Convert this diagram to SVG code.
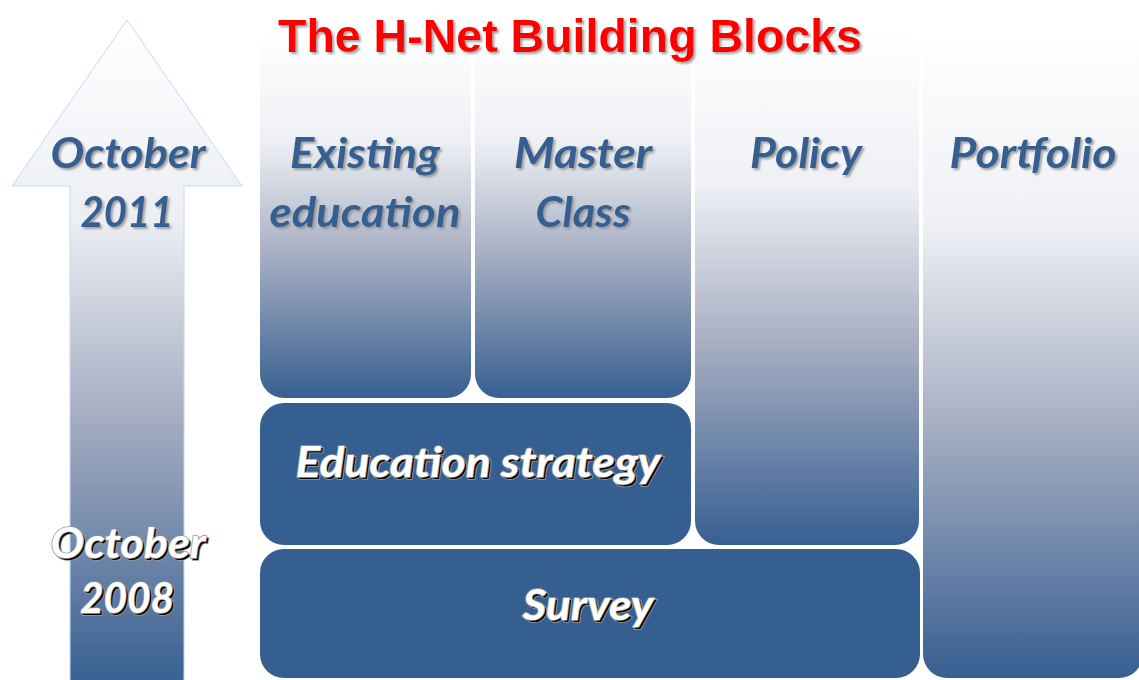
<svg xmlns="http://www.w3.org/2000/svg" width="1139" height="680" viewBox="0 0 1139 680">
<defs>
<linearGradient id="colGrad" x1="0" y1="0" x2="0" y2="1">
<stop offset="0" stop-color="#ffffff"/>
<stop offset="0.3" stop-color="#eef0f4"/>
<stop offset="0.6" stop-color="#a9b0c4"/>
<stop offset="1" stop-color="#365f91"/>
</linearGradient>
<linearGradient id="arrowGrad" x1="0" y1="0" x2="0" y2="1">
<stop offset="0" stop-color="#ffffff"/>
<stop offset="0.3" stop-color="#eceef3"/>
<stop offset="0.6" stop-color="#a3abc0"/>
<stop offset="1" stop-color="#365f91"/>
</linearGradient>
<filter id="greyShadow" x="-10%" y="-20%" width="130%" height="150%">
<feDropShadow dx="2" dy="2" stdDeviation="0.8" flood-color="#8c8c8c" flood-opacity="0.8"/>
</filter>
</defs>
<style>
.col{fill:url(#colGrad);stroke:#ffffff;stroke-width:2}
.solid{fill:#365f91;stroke:#ffffff;stroke-width:2}
.blue{font-family:Lato,"Open Sans","DejaVu Sans",sans-serif;font-weight:bold;font-style:italic;font-size:42px;fill:#365f91;text-anchor:middle;filter:url(#greyShadow)}
.white{font-family:Lato,"Open Sans","DejaVu Sans",sans-serif;font-weight:bold;font-style:italic;font-size:42px;fill:#ffffff;stroke:#9a9a9a;stroke-width:1.6;paint-order:stroke;text-anchor:middle}
.wshadow{font-family:Lato,"Open Sans","DejaVu Sans",sans-serif;font-weight:bold;font-style:italic;font-size:42px;fill:#000000;stroke:#9a9a9a;stroke-width:1.6;paint-order:stroke;text-anchor:middle}
.title{font-family:"Liberation Sans",Arial,sans-serif;font-weight:bold;font-size:46.5px;fill:#ff0000;text-anchor:middle;filter:url(#greyShadow)}
</style>
<rect width="1139" height="680" fill="#ffffff"/>

<g id="timeline-arrow">
<path d="M127 20 L242 186 L184 186 L184 690 L70 690 L70 186 L12 186 Z" fill="url(#arrowGrad)" stroke="#c6d9f1" stroke-width="1"/>
<text class="blue" x="128" y="168" textLength="155" lengthAdjust="spacingAndGlyphs">October</text>
<text class="blue" x="127" y="227" textLength="93" lengthAdjust="spacingAndGlyphs">2011</text>
<text class="wshadow" x="130" y="560" textLength="155" lengthAdjust="spacingAndGlyphs">October</text>
<text class="white" x="128" y="558" textLength="155" lengthAdjust="spacingAndGlyphs">October</text>
<text class="wshadow" x="129" y="615" textLength="94" lengthAdjust="spacingAndGlyphs">2008</text>
<text class="white" x="127" y="613" textLength="94" lengthAdjust="spacingAndGlyphs">2008</text>
</g>

<g id="existing-education">
<rect class="col" x="259" y="30" width="213" height="369" rx="25"/>
<text class="blue" x="365" y="168" textLength="150" lengthAdjust="spacingAndGlyphs">Existing</text>
<text class="blue" x="365" y="227" textLength="191" lengthAdjust="spacingAndGlyphs">education</text>
</g>

<g id="master-class">
<rect class="col" x="474" y="30" width="218" height="369" rx="25"/>
<text class="blue" x="583" y="168" textLength="138" lengthAdjust="spacingAndGlyphs">Master</text>
<text class="blue" x="583" y="227" textLength="95" lengthAdjust="spacingAndGlyphs">Class</text>
</g>

<g id="policy">
<rect class="col" x="694" y="30" width="226" height="516" rx="25"/>
<text class="blue" x="806" y="168" textLength="112" lengthAdjust="spacingAndGlyphs">Policy</text>
</g>

<g id="portfolio">
<rect class="col" x="922" y="30" width="222" height="649" rx="25"/>
<text class="blue" x="1033" y="168" textLength="167" lengthAdjust="spacingAndGlyphs">Portfolio</text>
</g>

<g id="education-strategy">
<rect class="solid" x="259" y="402" width="433" height="144" rx="25"/>
<text class="wshadow" x="480" y="479" textLength="365" lengthAdjust="spacingAndGlyphs">Education strategy</text>
<text class="white" x="478" y="477" textLength="365" lengthAdjust="spacingAndGlyphs">Education strategy</text>
</g>

<g id="survey">
<rect class="solid" x="259" y="548" width="662" height="131" rx="25"/>
<text class="wshadow" x="590" y="622" textLength="131" lengthAdjust="spacingAndGlyphs">Survey</text>
<text class="white" x="588" y="620" textLength="131" lengthAdjust="spacingAndGlyphs">Survey</text>
</g>

<g id="connectors"></g>

<g id="title">
<text class="title" x="570" y="52" textLength="584" lengthAdjust="spacingAndGlyphs">The H-Net Building Blocks</text>
</g>
</svg>
